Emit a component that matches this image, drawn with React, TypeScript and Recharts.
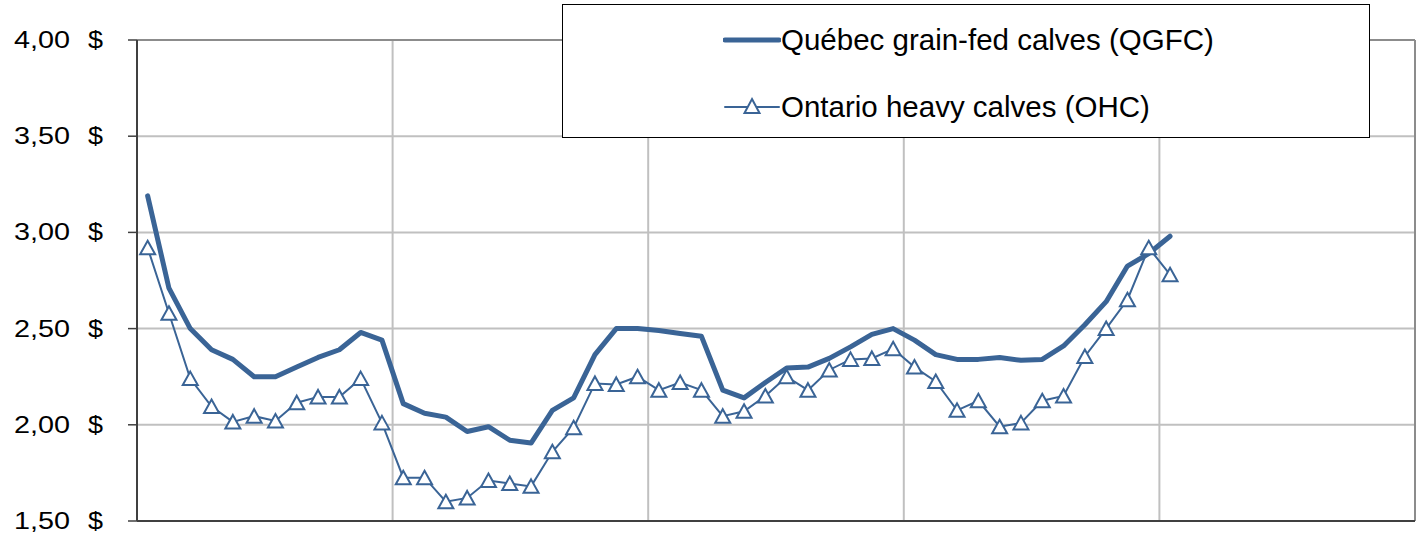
import { LineChart, Line, XAxis, YAxis, CartesianGrid, Legend, ReferenceLine } from 'recharts';

// monthly prices, $ per kg, 60-month axis (only the first 49 months have data)
const qgfc = [
  3.19, 2.71, 2.5, 2.39, 2.34, 2.25, 2.25, 2.3, 2.35, 2.39, 2.48, 2.44,
  2.11, 2.06, 2.04, 1.965, 1.99, 1.92, 1.905, 2.075, 2.14, 2.365, 2.5, 2.5,
  2.49, 2.475, 2.46, 2.18, 2.14, 2.22, 2.295, 2.3, 2.345, 2.405, 2.47, 2.5,
  2.44, 2.365, 2.34, 2.34, 2.35, 2.335, 2.34, 2.41, 2.52, 2.64, 2.825, 2.89,
  2.98,
];

const ohc = [
  2.92, 2.58, 2.24, 2.095, 2.015, 2.045, 2.02, 2.115, 2.145, 2.145, 2.24, 2.01,
  1.725, 1.725, 1.6, 1.62, 1.71, 1.695, 1.68, 1.86, 1.985, 2.215, 2.21, 2.25,
  2.18, 2.22, 2.18, 2.045, 2.07, 2.15, 2.25, 2.18, 2.285, 2.34, 2.345, 2.395,
  2.3, 2.225, 2.075, 2.125, 1.99, 2.01, 2.125, 2.15, 2.355, 2.5, 2.65, 2.92,
  2.78,
];

const yTicks = [1.5, 2, 2.5, 3, 3.5, 4];
const yearTicks = [12, 24, 36, 48];

const seriesNames = {
  qgfc: 'Québec grain-fed calves (QGFC)',
  ohc: 'Ontario heavy calves (OHC)',
};

const BLUE = '#3a6496';
const FONT = '"Liberation Sans", Arial, sans-serif';

const data = qgfc.map((v, i) => ({ m: i + 0.5, qgfc: v, ohc: ohc[i] }));

function YTick({ x, y, payload }: any) {
  const label = payload.value.toFixed(2).replace('.', ',');
  return (
    <g fontFamily={FONT} fontSize={23} fill="#000">
      <text x={x - 112} y={y + 8} textLength={56} lengthAdjust="spacingAndGlyphs">
        {label}
      </text>
      <text x={x - 38} y={y + 8} textLength={15} lengthAdjust="spacingAndGlyphs">
        $
      </text>
    </g>
  );
}

function Triangle({ cx, cy, index }: any) {
  if (cx == null || cy == null) return null;
  return (
    <path
      key={index}
      d={`M${cx},${cy - 7} L${cx + 7.5},${cy + 6.5} L${cx - 7.5},${cy + 6.5} Z`}
      fill="#fff"
      stroke={BLUE}
      strokeWidth={2}
    />
  );
}

function LegendBox() {
  const row = (top: number, thick: boolean, text: string) => (
    <div style={{ position: 'absolute', left: 160, top, height: 40, display: 'flex', alignItems: 'center' }}>
      <svg width={58} height={24}>
        <line x1={2} y1={12} x2={56} y2={12} stroke={BLUE} strokeWidth={thick ? 5 : 2} strokeLinecap="round" />
        {!thick && <path d="M29,4 L36.5,18 L21.5,18 Z" fill="#fff" stroke={BLUE} strokeWidth={2} />}
      </svg>
      <span style={{ fontFamily: FONT, fontSize: 29.5, color: '#000', marginLeft: 0, whiteSpace: 'nowrap' }}>{text}</span>
    </div>
  );
  return (
    <div style={{ position: 'relative', width: '100%', height: '100%' }}>
      {row(15, true, seriesNames.qgfc)}
      {row(82, false, seriesNames.ohc)}
    </div>
  );
}

export default function App() {
  return (
    <div style={{ position: 'absolute', left: 0, top: 0, background: '#fff' }}>
      <LineChart width={1416} height={535} data={data} margin={{ top: 40, right: 1, bottom: 13, left: 0 }}>
        <CartesianGrid stroke="#c0c0c0" strokeWidth={2} vertical={false} />
        <XAxis
          type="number"
          dataKey="m"
          domain={[0, 60]}
          ticks={[0, ...yearTicks, 60]}
          tick={false}
          tickLine={false}
          height={1}
          axisLine={{ stroke: '#404040', strokeWidth: 2 }}
        />
        <YAxis
          type="number"
          domain={[1.5, 4]}
          ticks={yTicks}
          width={137}
          tickSize={9}
          tickLine={{ stroke: '#404040', strokeWidth: 1.5 }}
          axisLine={{ stroke: '#404040', strokeWidth: 2 }}
          tick={<YTick />}
        />
        {yearTicks.map((t) => (
          <ReferenceLine key={t} x={t} stroke="#c0c0c0" strokeWidth={2} />
        ))}
        <ReferenceLine y={4} stroke="#8c8c8c" strokeWidth={2} />
        <ReferenceLine x={60} stroke="#8c8c8c" strokeWidth={2} />
        <Line
          type="linear"
          dataKey="qgfc"
          name={seriesNames.qgfc}
          stroke={BLUE}
          strokeWidth={5}
          strokeLinejoin="round"
          strokeLinecap="round"
          dot={false}
          activeDot={false}
          isAnimationActive={false}
        />
        <Line
          type="linear"
          dataKey="ohc"
          name={seriesNames.ohc}
          stroke={BLUE}
          strokeWidth={2}
          dot={<Triangle />}
          activeDot={false}
          isAnimationActive={false}
        />
        <Legend
          layout="horizontal"
          verticalAlign="middle"
          align="center"
          content={<LegendBox />}
          wrapperStyle={{
            left: 562,
            top: 4,
            width: 808,
            height: 134,
            border: '1px solid #000',
            background: '#fff',
            boxSizing: 'border-box',
          }}
        />
      </LineChart>
    </div>
  );
}
